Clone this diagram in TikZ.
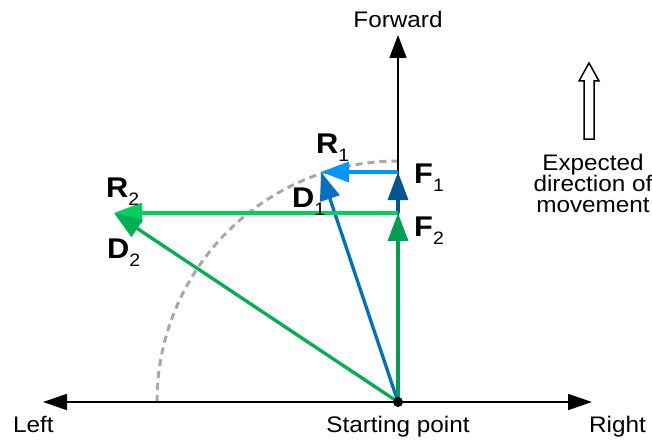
\documentclass[tikz,border=0pt]{standalone}
\usepackage{fontspec}
\setmainfont{Liberation Sans}[FakeStretch=1.08]
\usetikzlibrary{arrows.meta}
\definecolor{cRone}{HTML}{0096FF}
\definecolor{cFone}{HTML}{00558F}
\definecolor{cDone}{HTML}{0070C0}
\definecolor{cFtwo}{HTML}{00A050}
\definecolor{cRtwo}{HTML}{00D060}
\definecolor{cDtwo}{HTML}{00B050}
\definecolor{cArc}{HTML}{A8A8A8}
\newcommand\veclab[2]{\textbf{#1}\raisebox{-8pt}{\fontsize{18}{18}\selectfont #2}}
\tikzset{
  axisline/.style={line width=1.8pt, -{Triangle[length=24pt,width=16pt]}},
  vecarrow/.style={line width=3.3pt, -{Triangle[length=28pt,width=20pt]}},
  plainlab/.style={inner sep=0pt, font=\fontsize{22.5}{22.5}\selectfont},
  boldlab/.style={inner sep=0pt, anchor=base west, font=\fontsize{28.5}{28.5}\selectfont},
}
\begin{document}
\begin{tikzpicture}[x=1pt,y=1pt]
\useasboundingbox (0,0) rectangle (652,440);
% key points
\coordinate (O) at (398,38);
\coordinate (L) at (43,38);
\coordinate (Rt) at (592,38);
\coordinate (Top) at (398,405);
\coordinate (P1) at (398,268);
\coordinate (P2) at (398,227);
\coordinate (T1) at (321,268);
\coordinate (T2) at (114,227);
% dashed arc
\draw[cArc, line width=3pt, dash pattern=on 7pt off 5pt] (157,38) arc[start angle=180, end angle=90, radius=241];
% axes
\draw[axisline] (O) -- (L);
\draw[axisline] (O) -- (Rt);
\draw[line width=1.5pt, -{Triangle[length=23pt,width=17pt]}] (O) -- (Top);
% vectors
\draw[vecarrow, cFtwo] (O) -- (P2);
\draw[vecarrow, cFone] (P2) -- (P1);
\draw[vecarrow, cRone] (P1) -- (T1);
\draw[vecarrow, cDone] (O) -- (T1);
\draw[vecarrow, cRtwo] (P2) -- (T2);
\draw[vecarrow, cDtwo] (O) -- (T2);
% origin dot
\node[circle, fill=black, inner sep=0pt, minimum size=10pt] (dot) at (O) {};
% vector labels
\node[boldlab] (lR1) at (316,287) {\veclab{R}{1}};
\node[boldlab] (lF1) at (414,257) {\veclab{F}{1}};
\node[boldlab] (lD1) at (292,233) {\veclab{D}{1}};
\node[boldlab] (lF2) at (414,204) {\veclab{F}{2}};
\node[boldlab] (lR2) at (106,243) {\veclab{R}{2}};
\node[boldlab] (lD2) at (107,182) {\veclab{D}{2}};
% axis labels
\node[plainlab, anchor=base] (fwd) at (398,412) {Forward};
\node[plainlab, anchor=base west] (left) at (13,8) {Left};
\node[plainlab, anchor=base] (start) at (398,8) {Starting point};
\node[plainlab, anchor=base east] (right) at (646,8) {Right};
% expected direction arrow (hollow)
\draw[line width=1.5pt, line join=miter, fill=white] (584,301) -- (584,359) -- (579,359) -- (589,377) -- (599,359) -- (594,359) -- (594,301) -- cycle;
\node[plainlab, anchor=base] (exp1) at (593,270) {Expected};
\node[plainlab, anchor=base] (exp2) at (593,249) {direction of};
\node[plainlab, anchor=base] (exp3) at (593,228) {movement};
\end{tikzpicture}
\end{document}
